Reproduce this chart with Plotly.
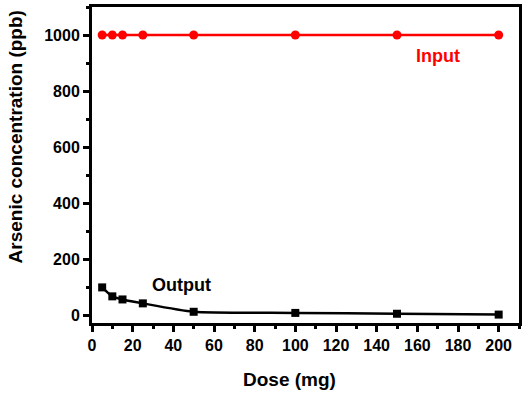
import plotly.graph_objects as go

dose = [5, 10, 15, 25, 50, 100, 150, 200]
input_ppb = [1000, 1000, 1000, 1000, 1000, 1000, 1000, 1000]
output_ppb = [100, 68, 57, 43, 13, 9, 6, 3]

x_ticks = [0, 20, 40, 60, 80, 100, 120, 140, 160, 180, 200]
y_ticks = [0, 200, 400, 600, 800, 1000]

FONT = "Liberation Sans, Arial, sans-serif"

fig = go.Figure()
fig.add_trace(go.Scatter(
    x=dose, y=input_ppb, mode="lines+markers",
    line=dict(color="#ff0000", width=2.5),
    marker=dict(symbol="circle", size=9, color="#ff0000"),
    name="Input"))
fig.add_trace(go.Scatter(
    x=dose, y=output_ppb, mode="lines+markers",
    line=dict(color="black", width=2.5, shape="spline", smoothing=0.6),
    marker=dict(symbol="square", size=8, color="black"),
    name="Output"))

fig.add_annotation(x=170, y=925, text="<b>Input</b>", showarrow=False,
                   font=dict(family=FONT, size=18, color="#ff0000"))
fig.add_annotation(x=44, y=108, text="<b>Output</b>", showarrow=False,
                   font=dict(family=FONT, size=18, color="black"))

# axis titles as paper annotations to match reference placement
fig.add_annotation(xref="paper", yref="paper", x=0.463, y=-0.18,
                   yanchor="middle", xanchor="center",
                   text="<b>Dose (mg)</b>", showarrow=False,
                   font=dict(family=FONT, size=19, color="black"))
fig.add_annotation(xref="paper", yref="paper", x=-0.179, y=0.589,
                   xanchor="center", yanchor="middle", textangle=-90,
                   text="<b>Arsenic concentration (ppb)</b>", showarrow=False,
                   font=dict(family=FONT, size=19, color="black"))

axis_common = dict(
    showgrid=False, zeroline=False, showline=True, linecolor="black",
    linewidth=3, mirror=True, ticks="outside", tickwidth=2.5,
    tickcolor="black", ticklen=6,
    tickfont=dict(family=FONT, size=16, color="black", weight="bold"),
)

fig.update_layout(
    width=526, height=397,
    margin=dict(l=92, r=4, t=4, b=74),
    plot_bgcolor="white", paper_bgcolor="white",
    showlegend=False,
    xaxis=dict(**axis_common, range=[0, 210], tickvals=x_ticks,
               minor=dict(ticks="outside", ticklen=3, dtick=10, tick0=0,
                          tickcolor="black", tickwidth=2.5)),
    yaxis=dict(**axis_common, range=[-27, 1100], tickvals=y_ticks,
               minor=dict(ticks="outside", ticklen=3, dtick=100, tick0=0,
                          tickcolor="black", tickwidth=2.5)),
)

fig.write_html("out.html", config={"displayModeBar": False},
               post_script="document.body.style.margin='0';document.body.style.padding='0';")
